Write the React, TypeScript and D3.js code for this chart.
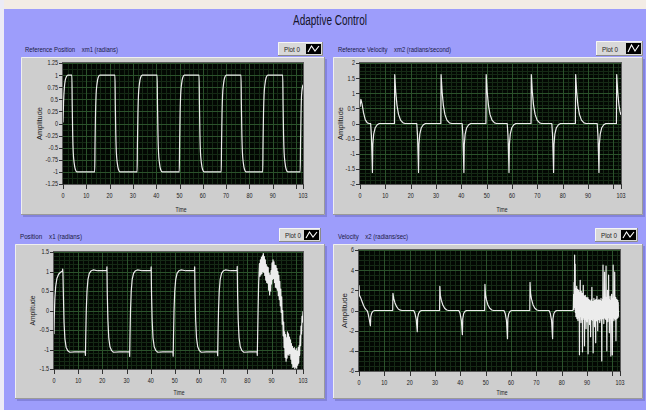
import React from 'react';
import * as d3 from 'd3';

type Pt = [number, number];
type Box = [number, number, number, number];

// ---------- axes ----------
const timeTicks = [0, 10, 20, 30, 40, 50, 60, 70, 80, 90, 100, 103];
const timeTickLabels = ['0', '10', '20', '30', '40', '50', '60', '70', '80', '90', '', '103'];
const refPositionTicks = [-1.25, -1, -0.75, -0.5, -0.25, 0, 0.25, 0.5, 0.75, 1, 1.25];
const refVelocityTicks = [-2, -1.5, -1, -0.5, 0, 0.5, 1, 1.5, 2];
const positionTicks = [-1.5, -1, -0.5, 0, 0.5, 1, 1.5];
const velocityTicks = [-6, -4, -2, 0, 2, 4, 6];

// ---------- reference position xm1 (radians): [time, value] ----------
const refPosition: Pt[] = [
  [0, 0.02], [0.25, 0.45], [0.6, 0.75], [1.0, 0.9], [1.5, 0.97], [2.1, 1],
  [3.8, 1], [3.95, 0.4], [4.15, -0.2], [4.4, -0.6], [4.8, -0.82], [5.3, -0.95], [6.0, -1],
  [13.6, -1], [13.75, -0.4], [13.95, 0.2], [14.2, 0.6], [14.6, 0.82], [15.1, 0.95], [15.8, 1],
  [22.3, 1], [22.45, 0.4], [22.65, -0.2], [22.9, -0.6], [23.3, -0.82], [23.8, -0.95], [24.5, -1],
  [31.8, -1], [31.95, -0.4], [32.15, 0.2], [32.4, 0.6], [32.8, 0.82], [33.3, 0.95], [34.0, 1],
  [40.4, 1], [40.55, 0.4], [40.75, -0.2], [41.0, -0.6], [41.4, -0.82], [41.9, -0.95], [42.6, -1],
  [49.9, -1], [50.05, -0.4], [50.25, 0.2], [50.5, 0.6], [50.9, 0.82], [51.4, 0.95], [52.1, 1],
  [58.4, 1], [58.55, 0.4], [58.75, -0.2], [59.0, -0.6], [59.4, -0.82], [59.9, -0.95], [60.6, -1],
  [67.9, -1], [68.05, -0.4], [68.25, 0.2], [68.5, 0.6], [68.9, 0.82], [69.4, 0.95], [70.1, 1],
  [76.4, 1], [76.55, 0.4], [76.75, -0.2], [77.0, -0.6], [77.4, -0.82], [77.9, -0.95], [78.6, -1],
  [85.7, -1], [85.85, -0.4], [86.05, 0.2], [86.3, 0.6], [86.7, 0.82], [87.2, 0.95], [87.9, 1],
  [94.3, 1], [94.45, 0.4], [94.65, -0.2], [94.9, -0.6], [95.3, -0.82], [95.8, -0.95], [96.5, -1],
  [101.8, -1], [101.95, -0.4], [102.15, 0.2], [102.4, 0.6], [103, 0.8],
];

// ---------- reference velocity xm2 (radians/second) ----------
const refVelocity: Pt[] = [
  [0, 0.55], [0.35, 0.8], [0.8, 0.65], [1.4, 0.35], [2.1, 0.12], [2.9, 0.02], [3.6, 0],
  [4.2, 0], [4.5, -0.4], [4.75, -1.1], [4.9, -1.62], [5.05, -0.7], [5.4, -0.35], [6.0, -0.14], [6.8, -0.04], [7.6, 0],
  [13.6, 0], [13.7, 1.62], [14.1, 1.05], [14.6, 0.6], [15.2, 0.3], [16.0, 0.11], [17.0, 0.02], [17.8, 0],
  [22.4, 0], [22.7, -0.4], [22.95, -1.1], [23.1, -1.62], [23.25, -0.7], [23.6, -0.35], [24.2, -0.14], [25.0, -0.04], [25.8, 0],
  [31.9, 0], [32.0, 1.62], [32.4, 1.05], [32.9, 0.6], [33.5, 0.3], [34.3, 0.11], [35.3, 0.02], [36.1, 0],
  [40.3, 0], [40.6, -0.4], [40.85, -1.1], [41.0, -1.62], [41.15, -0.7], [41.5, -0.35], [42.1, -0.14], [42.9, -0.04], [43.7, 0],
  [49.7, 0], [49.8, 1.62], [50.2, 1.05], [50.7, 0.6], [51.3, 0.3], [52.1, 0.11], [53.1, 0.02], [53.9, 0],
  [58.1, 0], [58.4, -0.4], [58.65, -1.1], [58.8, -1.62], [58.95, -0.7], [59.3, -0.35], [59.9, -0.14], [60.7, -0.04], [61.5, 0],
  [67.5, 0], [67.6, 1.62], [68.0, 1.05], [68.5, 0.6], [69.1, 0.3], [69.9, 0.11], [70.9, 0.02], [71.7, 0],
  [75.7, 0], [76.0, -0.4], [76.25, -1.1], [76.4, -1.62], [76.55, -0.7], [76.9, -0.35], [77.5, -0.14], [78.3, -0.04], [79.1, 0],
  [85.0, 0], [85.1, 1.62], [85.5, 1.05], [86.0, 0.6], [86.6, 0.3], [87.4, 0.11], [88.4, 0.02], [89.2, 0],
  [93.6, 0], [93.9, -0.4], [94.15, -1.1], [94.3, -1.62], [94.45, -0.7], [94.8, -0.35], [95.4, -0.14], [96.2, -0.04], [97.0, 0],
  [101.2, 0], [101.3, 1.62], [101.7, 1.05], [102.2, 0.6], [102.6, 0.4], [103, 0.28],
];

// ---------- plant position x1 (radians) ----------
const positionTracked: Pt[] = [
  [0, -0.6], [0.1, -0.2], [0.35, 0.3], [0.7, 0.62], [1.2, 0.82], [1.9, 0.93], [2.7, 0.98], [3.5, 1.01], [3.6, 1.06], [3.7, 0.95],
  [3.9, 0.35], [4.15, -0.3], [4.5, -0.72], [5.0, -0.94], [5.7, -1.03], [6.5, -1.07], [8.5, -1.06], [12.9, -1.06], [13.0, -1.15],
  [13.15, -0.6], [13.35, 0], [13.65, 0.5], [14.05, 0.8], [14.6, 0.95], [15.4, 1.02], [16.2, 1.04], [18, 1.02], [21.8, 1.02], [21.9, 1.12],
  [22.05, 0.4], [22.3, -0.25], [22.65, -0.7], [23.15, -0.93], [23.85, -1.03], [24.6, -1.07], [27, -1.06], [31.2, -1.06], [31.3, -1.18],
  [31.45, -0.6], [31.65, 0], [31.95, 0.5], [32.35, 0.8], [32.9, 0.95], [33.7, 1.02], [34.5, 1.04], [36.5, 1.02], [40.1, 1.02], [40.2, 1.12],
  [40.35, 0.4], [40.6, -0.25], [40.95, -0.7], [41.45, -0.93], [42.15, -1.03], [42.9, -1.07], [45, -1.06], [49.2, -1.06], [49.3, -1.17],
  [49.45, -0.6], [49.65, 0], [49.95, 0.5], [50.35, 0.8], [50.9, 0.95], [51.7, 1.02], [52.5, 1.04], [54.5, 1.02], [58.1, 1.02], [58.2, 1.12],
  [58.35, 0.4], [58.6, -0.25], [58.95, -0.7], [59.45, -0.93], [60.15, -1.03], [60.9, -1.07], [63, -1.06], [67.6, -1.06], [67.7, -1.16],
  [67.85, -0.6], [68.05, 0], [68.35, 0.5], [68.75, 0.8], [69.3, 0.95], [70.1, 1.02], [70.9, 1.04], [73, 1.02], [75.7, 1.02], [75.8, 1.13],
  [75.95, 0.4], [76.2, -0.25], [76.55, -0.7], [77.05, -0.93], [77.75, -1.03], [78.5, -1.07], [81, -1.06], [84.0, -1.06], [84.1, -1.15],
  [84.25, -0.6], [84.45, 0.1], [84.65, 0.7],
];
// sampled record after the disturbance: start time, sample step, values
const positionNoiseStart = 84.8;
const positionNoiseStep = 0.2;
const positionNoise = [
  0.9, 1.2, 0.88, 1.3, 0.92, 1.36, 0.95, 1.4, 1.0, 1.46, 0.98, 1.38, 0.9, 1.3, 0.78, 1.18, 0.72, 1.12, 0.7, 1.1,
  0.52, 0.95, 0.4, 0.9, 0.5, 1.02, 0.68, 1.22, 0.8, 1.3, 0.82, 1.25, 0.72, 1.16, 0.6, 1.15, 0.58, 1.08, 0.52, 1.0,
  0.38, 0.9, 0.28, 0.75, 0.12, 0.55, -0.05, 0.35, -0.35, 0.0, -0.65, -0.3, -0.95, -0.55, -1.2, -0.62, -1.3, -0.7, -1.22, -0.55,
  -1.12, -0.6, -1.15, -0.68, -1.1, -0.75, -1.25, -0.85, -1.36, -0.92, -1.46, -0.98, -1.44, -0.95, -1.49, -1.02, -1.45, -0.98, -1.48, -1.05,
  -1.4, -0.95, -1.35, -0.9, -1.15, -0.65, -0.9, -0.4, -0.6, -0.15, -0.3, -0.02,
];

// ---------- plant velocity x2 (radians/sec) ----------
const velocityTracked: Pt[] = [
  [0, 2.5], [0.15, 1.5], [0.6, 1.3], [1.2, 0.9], [1.8, 0.5], [2.4, 0.2], [3.0, 0.02],
  [3.2, 0], [3.6, -0.3], [4.0, -0.8], [4.5, -1.5], [4.65, -0.6], [5.0, -0.25], [5.6, -0.05], [6.2, 0],
  [13.3, 0], [13.4, 1.7], [13.7, 1.2], [14.2, 0.75], [14.8, 0.4], [15.5, 0.15], [16.3, 0.03], [17.0, 0],
  [21.6, 0], [22.1, -0.3], [22.6, -0.9], [23.0, -2.1], [23.15, -0.7], [23.5, -0.3], [24.1, -0.06], [24.7, 0],
  [31.8, 0], [31.9, 2.4], [32.1, 1.5], [32.5, 1.0], [33.1, 0.55], [33.8, 0.22], [34.6, 0.05], [35.3, 0],
  [39.4, 0], [39.9, -0.3], [40.4, -1.0], [40.8, -2.4], [40.95, -0.8], [41.3, -0.3], [41.9, -0.06], [42.5, 0],
  [49.6, 0], [49.7, 2.6], [49.9, 1.6], [50.3, 1.05], [50.9, 0.55], [51.6, 0.22], [52.4, 0.05], [53.1, 0],
  [57.2, 0], [57.7, -0.3], [58.2, -1.0], [58.6, -2.8], [58.75, -0.8], [59.1, -0.3], [59.7, -0.06], [60.3, 0],
  [67.4, 0], [67.5, 2.8], [67.7, 1.7], [68.1, 1.1], [68.7, 0.55], [69.4, 0.22], [70.2, 0.05], [70.9, 0],
  [75.0, 0], [75.5, -0.3], [76.0, -1.0], [76.4, -2.8], [76.55, -0.8], [76.9, -0.3], [77.5, -0.06], [78.1, 0],
  [84.45, 0],
];
const velocityNoiseStart = 84.6;
const velocityNoiseStep = 0.1;
const velocityNoise = [
  0.2, 1.6, 0.1, 2.8, 0.4, 5.5, 0.3, 4.6, -0.2, 2.2, -0.6, 1.9, -0.3, 2.4, -0.8, 1.8, -0.5, 2.1, -1.0, 1.6,
  -0.4, 2.0, -0.7, 1.5, -4.4, 1.8, -0.6, 3.0, -0.3, 1.6, -1.2, 1.9, -0.5, 1.4, -0.9, 1.7, -4.1, 1.3, -0.7, 2.5,
  -0.4, 1.5, -0.9, 1.2, -3.5, 1.4, -0.6, 1.5, -0.9, 1.1, -1.8, 1.3, -0.5, 1.2, -1.1, 1.0, -0.7, 1.3, -4.3, 0.9,
  -0.8, 1.1, -0.6, 0.9, -1.4, 1.0, -0.7, 0.8, -2.6, 0.9, -0.8, 1.1, -0.9, 2.3, -0.6, 0.9, -1.0, 0.8, -4.2, 0.9,
  -0.8, 1.2, -0.7, 0.9, -1.6, 1.0, -0.7, 0.8, -3.2, 1.1, -0.8, 0.9, -1.0, 1.4, -0.7, 1.0, -2.0, 1.0, -0.8, 0.9,
  -0.9, 1.1, -0.7, 0.8, -1.2, 1.0, -0.6, 0.9, -0.8, 1.2, -1.0, 0.9, -5.0, 0.8, -0.7, 1.1, -0.8, 4.5, -0.6, 1.2,
  -1.3, 1.0, -0.7, 3.8, -0.5, 1.0, -0.8, 1.3, -0.9, 4.4, -0.6, 1.1, -4.0, 1.3, -0.6, 2.0, -1.1, 1.2, -0.7, 3.5,
  -0.6, 1.1, -2.2, 0.9, -0.8, 1.4, -0.7, 1.0, -4.5, 0.8, -0.6, 1.6, -0.9, 1.2, -4.4, 0.9, -0.7, 4.5, -0.6, 1.2,
  -1.0, 1.0, -0.8, 3.8, -0.5, 1.0, -0.9, 1.3, -3.0, 0.9, -0.7, 1.1, -0.8, 0.9, -0.6, 1.0, -0.7, 0.8, -0.6,
];

const FONT = "'Liberation Sans', Arial, 'DejaVu Sans', sans-serif";

interface PanelProps {
  id: string;
  frame: Box;
  plot: Box;
  yDomain: [number, number];
  yTicks: number[];
  yMinor: number;
  data: Pt[];
  curve: d3.CurveFactory;
  label: string;
  labelX: number;
  labelY: number;
  labelW: number;
  legend: Box;
  ampX: number;
  ampLen: number;
  timeX: number;
  timeY: number;
}

function Panel(p: PanelProps) {
  const [fx0, fy0, fx1, fy1] = p.frame;
  const [px0, py0, px1, py1] = p.plot;
  const x = d3.scaleLinear().domain([0, 103]).range([px0, px1]);
  const y = d3.scaleLinear().domain(p.yDomain).range([py1, py0]);
  const line = d3.line<Pt>().x((d) => x(d[0])).y((d) => y(d[1])).curve(p.curve);
  const snap = (v: number) => Math.round(v) + 0.5;

  const majorX = d3.range(10, 101, 10);
  const minorX = d3.range(2, 103, 2).filter((v) => v % 10 !== 0);
  const minorY = d3
    .range(p.yDomain[0], p.yDomain[1] + 1e-9, p.yMinor)
    .filter((v) => !p.yTicks.some((t) => Math.abs(t - v) < 1e-6));

  const [lx0, ly0, lx1, ly1] = p.legend;
  const ix0 = lx1 - 17;
  const ix1 = lx1 - 2;
  const iy0 = ly0 + 2;
  const iy1 = ly1 - 2;

  return (
    <g>
      {/* graph frame */}
      <rect x={fx0 + 2} y={fy0 + 2} width={fx1 - fx0} height={fy1 - fy0} fill="#7272c8" opacity={0.6} />
      <rect x={fx0} y={fy0} width={fx1 - fx0} height={fy1 - fy0} fill="#cecece" />
      <path d={`M${fx0 + 0.5},${fy1}V${fy0 + 0.5}H${fx1}`} stroke="#efefef" fill="none" />
      <path d={`M${fx0},${fy1 - 0.5}H${fx1 - 0.5}V${fy0}`} stroke="#9a9a9a" fill="none" />

      {/* label */}
      <text x={p.labelX} y={p.labelY} fontFamily={FONT} fontSize={7.5} fill="#1b1b44"
        textLength={p.labelW} lengthAdjust="spacingAndGlyphs" style={{ whiteSpace: 'pre' }}>
        {p.label}
      </text>

      {/* legend */}
      <rect x={lx0} y={ly0} width={lx1 - lx0} height={ly1 - ly0} fill="#d8d8d8" />
      <path d={`M${lx0 + 0.5},${ly1}V${ly0 + 0.5}H${lx1}`} stroke="#f6f6f6" fill="none" />
      <path d={`M${lx0},${ly1 - 0.5}H${lx1 - 0.5}V${ly0}`} stroke="#8a8a8a" fill="none" />
      <text x={lx0 + 6} y={ly1 - 4} fontFamily={FONT} fontSize={7} fill="#222" textLength={16} lengthAdjust="spacingAndGlyphs">
        Plot 0
      </text>
      <rect x={ix0} y={iy0} width={ix1 - ix0} height={iy1 - iy0} fill="#000" />
      <polyline
        points={`${ix0 + 2},${iy1 - 2} ${ix0 + 5.5},${iy0 + 2} ${ix0 + 9},${iy1 - 3} ${ix1 - 2},${iy0 + 2}`}
        fill="none" stroke="#fff" strokeWidth={1.1} />

      {/* plot area */}
      <rect x={px0} y={py0} width={px1 - px0} height={py1 - py0} fill="#030803" />
      <g shapeRendering="crispEdges">
        {minorX.map((v) => (
          <line key={`mx${v}`} x1={snap(x(v))} x2={snap(x(v))} y1={py0} y2={py1} stroke="#152a15" />
        ))}
        {minorY.map((v, i) => (
          <line key={`my${i}`} x1={px0} x2={px1} y1={snap(y(v))} y2={snap(y(v))} stroke="#152a15" />
        ))}
        {majorX.map((v) => (
          <line key={`gx${v}`} x1={snap(x(v))} x2={snap(x(v))} y1={py0} y2={py1} stroke="#2b522b" />
        ))}
        {p.yTicks.map((v) => (
          <line key={`gy${v}`} x1={px0} x2={px1} y1={snap(y(v))} y2={snap(y(v))} stroke="#2b522b" />
        ))}
      </g>
      <clipPath id={`clip-${p.id}`}>
        <rect x={px0} y={py0} width={px1 - px0} height={py1 - py0} />
      </clipPath>
      <path d={line(p.data) || ''} fill="none" stroke="#ececec" strokeWidth={1.2}
        strokeLinejoin="round" clipPath={`url(#clip-${p.id})`} />
      <rect x={px0 - 0.5} y={py0 - 0.5} width={px1 - px0 + 1} height={py1 - py0 + 1} fill="none" stroke="#5a5a5a" />

      {/* y axis */}
      {p.yTicks.map((v) => (
        <g key={`yt${v}`}>
          <line x1={px0 - 4} x2={px0} y1={snap(y(v))} y2={snap(y(v))} stroke="#333" />
          <text transform={`translate(${px0 - 5},${y(v) + 2.4}) scale(0.78,1)`} textAnchor="end"
            fontFamily={FONT} fontSize={7} fill="#1c1c1c">
            {String(v)}
          </text>
        </g>
      ))}
      <text transform={`translate(${p.ampX},${(py0 + py1) / 2}) rotate(-90)`} textAnchor="middle"
        fontFamily={FONT} fontSize={8} fill="#1c1c1c" textLength={p.ampLen} lengthAdjust="spacingAndGlyphs">
        Amplitude
      </text>

      {/* time axis */}
      {timeTicks.map((v, i) => (
        <g key={`xt${v}`}>
          <line x1={snap(x(v))} x2={snap(x(v))} y1={py1} y2={py1 + 5} stroke="#333" />
          {timeTickLabels[i] && (
            <text transform={`translate(${x(v)},${py1 + 14}) scale(0.78,1)`} textAnchor="middle"
              fontFamily={FONT} fontSize={7} fill="#1c1c1c">
              {timeTickLabels[i]}
            </text>
          )}
        </g>
      ))}
      <text x={p.timeX} y={p.timeY} textAnchor="middle" fontFamily={FONT} fontSize={7} fill="#1c1c1c"
        textLength={11} lengthAdjust="spacingAndGlyphs">
        Time
      </text>
    </g>
  );
}

const positionSeries: Pt[] = positionTracked.concat(
  positionNoise.map((v, i) => [positionNoiseStart + i * positionNoiseStep, v] as Pt)
);
const velocitySeries: Pt[] = velocityTracked.concat(
  velocityNoise.map((v, i) => [velocityNoiseStart + i * velocityNoiseStep, v] as Pt)
);

export default function App() {
  return (
    <svg width={646} height={410} viewBox="0 0 646 410"
      style={{ position: 'absolute', left: 0, top: 0, display: 'block' }}>
      <rect x={0} y={0} width={646} height={410} fill="#9d9dfb" />
      <rect x={0} y={0} width={646} height={9} fill="#f3ece5" />
      <rect x={0} y={0} width={4} height={410} fill="#ecebf6" />

      <text x={330} y={25} textAnchor="middle" fontFamily={FONT} fontSize={14} fill="#14142a"
        textLength={74} lengthAdjust="spacingAndGlyphs">
        Adaptive Control
      </text>

      <Panel id="xm1" frame={[21, 57, 325, 215]} plot={[63, 63, 303, 184]} yDomain={[-1.25, 1.25]}
        yTicks={refPositionTicks} yMinor={0.125} data={refPosition} curve={d3.curveMonotoneX}
        label={'Reference Position    xm1 (radians)'} labelX={25} labelY={52} labelW={93}
        legend={[278, 42, 323, 56]} ampX={42} ampLen={33} timeX={181} timeY={212} />

      <Panel id="xm2" frame={[333, 57, 643, 215]} plot={[360, 63, 621, 184]} yDomain={[-2, 2]}
        yTicks={refVelocityTicks} yMinor={0.125} data={refVelocity} curve={d3.curveLinear}
        label={'Reference Velocity    xm2 (radians/second)'} labelX={338} labelY={52} labelW={113}
        legend={[596, 41, 643, 56]} ampX={343} ampLen={33} timeX={502} timeY={212} />

      <Panel id="x1" frame={[15, 244, 325, 399]} plot={[54, 252, 303, 369]} yDomain={[-1.5, 1.5]}
        yTicks={positionTicks} yMinor={0.1} data={positionSeries} curve={d3.curveLinear}
        label={'Position    x1 (radians)'} labelX={20} labelY={239} labelW={62}
        legend={[279, 228, 321, 242]} ampX={35} ampLen={30} timeX={179} timeY={395} />

      <Panel id="x2" frame={[333, 244, 643, 399]} plot={[359, 250, 620, 371]} yDomain={[-6, 6]}
        yTicks={velocityTicks} yMinor={0.5} data={velocitySeries} curve={d3.curveLinear}
        label={'Velocity    x2 (radians/sec)'} labelX={338} labelY={239} labelW={70}
        legend={[595, 228, 638, 242]} ampX={347} ampLen={35} timeX={502} timeY={395} />
    </svg>
  );
}
